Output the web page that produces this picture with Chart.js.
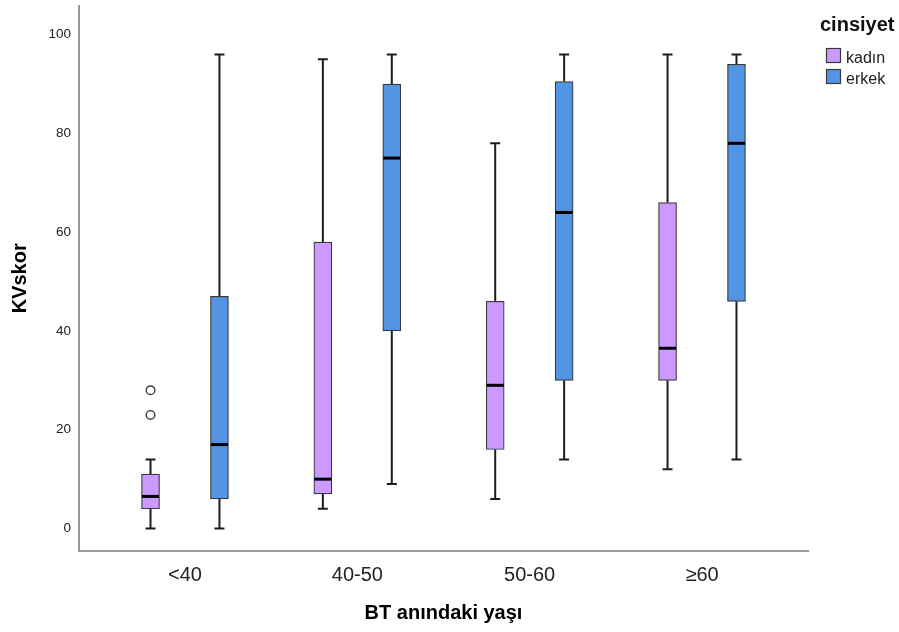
<!DOCTYPE html>
<html>
<head>
<meta charset="utf-8">
<script src="https://cdn.jsdelivr.net/npm/chart.js@4.4.1/dist/chart.umd.min.js"></script>
<style>
  html, body { margin: 0; padding: 0; background: #ffffff; }
  #wrap { width: 899px; height: 632px; }
</style>
</head>
<body>
<div id="wrap"><canvas id="c" width="899" height="632"></canvas></div>
<script>
// ---- data ----
const categories = ['<40', '40-50', '50-60', '≥60'];
const seriesNames = ['kadın', 'erkek'];
const yTicks = [0, 20, 40, 60, 80, 100];

const kadinMin     = [0, 4, 6, 12];
const kadinQ1      = [4, 7, 16, 30];
const kadinMedian  = [6.5, 10, 29, 36.5];
const kadinQ3      = [11, 58, 46, 66];
const kadinMax     = [14, 95, 78, 96];
const kadinOutliers = [[28, 23], [], [], []];

const erkekMin     = [0, 9, 14, 14];
const erkekQ1      = [6, 40, 30, 46];
const erkekMedian  = [17, 75, 64, 78];
const erkekQ3      = [47, 90, 90.5, 94];
const erkekMax     = [96, 96, 96, 96];
const erkekOutliers = [[], [], [], []];

const xTitle = 'BT anındaki yaşı';
const yTitle = 'KVskor';
const legendTitle = 'cinsiyet';

// ---- styling ----
const fills = ['#CC99FF', '#5394E3'];
const offsets = [-0.2, 0.2];
const FONT = "Arial, 'Liberation Sans', Helvetica, sans-serif";

const groups = [
  { min: kadinMin, q1: kadinQ1, med: kadinMedian, q3: kadinQ3, max: kadinMax, out: kadinOutliers },
  { min: erkekMin, q1: erkekQ1, med: erkekMedian, q3: erkekQ3, max: erkekMax, out: erkekOutliers }
];

const datasets = [];
groups.forEach((g, si) => {
  datasets.push({
    type: 'bar',
    label: seriesNames[si],
    data: categories.map((c, i) => ({ x: i + 1 + offsets[si], y: [g.q1[i], g.q3[i]] })),
    backgroundColor: fills[si],
    borderColor: '#3a3a3a',
    borderWidth: 1.2,
    borderSkipped: false,
    barThickness: 18,
    grouped: false,
    order: 2
  });
});
groups.forEach((g, si) => {
  const pts = [];
  categories.forEach((c, i) => g.out[i].forEach(v => pts.push({ x: i + 1 + offsets[si], y: v })));
  datasets.push({
    type: 'line',
    label: seriesNames[si] + ' outliers',
    data: pts,
    showLine: false,
    pointRadius: 4.3,
    pointBorderWidth: 1.4,
    pointBackgroundColor: '#ffffff',
    pointBorderColor: '#3a3a3a',
    order: 0
  });
});

const boxExtras = {
  id: 'boxExtras',
  beforeDatasetsDraw(chart) {
    const { ctx, scales: { x, y } } = chart;
    ctx.save();
    ctx.strokeStyle = '#1e1e1e';
    ctx.lineWidth = 2;
    groups.forEach((g, si) => {
      categories.forEach((c, i) => {
        const xc = x.getPixelForValue(i + 1 + offsets[si]);
        const yMin = y.getPixelForValue(g.min[i]);
        const yMax = y.getPixelForValue(g.max[i]);
        const yQ1 = y.getPixelForValue(g.q1[i]);
        const yQ3 = y.getPixelForValue(g.q3[i]);
        ctx.beginPath();
        ctx.moveTo(xc, yQ3); ctx.lineTo(xc, yMax);
        ctx.moveTo(xc, yQ1); ctx.lineTo(xc, yMin);
        ctx.moveTo(xc - 5, yMax); ctx.lineTo(xc + 5, yMax);
        ctx.moveTo(xc - 5, yMin); ctx.lineTo(xc + 5, yMin);
        ctx.stroke();
      });
    });
    ctx.restore();
  },
  afterDatasetsDraw(chart) {
    const { ctx, scales: { x, y } } = chart;
    ctx.save();
    ctx.strokeStyle = '#000000';
    ctx.lineWidth = 3;
    groups.forEach((g, si) => {
      categories.forEach((c, i) => {
        const xc = x.getPixelForValue(i + 1 + offsets[si]);
        const ym = y.getPixelForValue(g.med[i]);
        ctx.beginPath();
        ctx.moveTo(xc - 8.5, ym); ctx.lineTo(xc + 8.5, ym);
        ctx.stroke();
      });
    });
    ctx.restore();
  },
  afterDraw(chart) {
    const { ctx } = chart;
    ctx.save();
    ctx.fillStyle = '#111111';
    ctx.textAlign = 'left';
    ctx.textBaseline = 'alphabetic';
    ctx.font = 'bold 20px ' + FONT;
    ctx.fillText(legendTitle, 820, 31);
    ctx.font = '16px ' + FONT;
    seriesNames.forEach((name, si) => {
      const top = 48 + si * 21;
      ctx.fillStyle = fills[si];
      ctx.fillRect(826, top, 15, 15);
      ctx.strokeStyle = '#3a3a3a';
      ctx.lineWidth = 1.2;
      ctx.strokeRect(826.5, top + 0.5, 14, 14);
      ctx.fillStyle = '#222222';
      ctx.fillText(name, 846, top + 14.5);
    });
    ctx.restore();
  }
};

new Chart(document.getElementById('c'), {
  type: 'bar',
  data: { datasets },
  plugins: [boxExtras],
  options: {
    responsive: false,
    animation: false,
    devicePixelRatio: 1,
    layout: { padding: { top: 5, right: 91, left: 0, bottom: 0 } },
    plugins: {
      legend: { display: false },
      tooltip: { enabled: false }
    },
    scales: {
      x: {
        type: 'linear',
        offset: false,
        min: 0.385,
        max: 4.615,
        grid: { display: false, drawTicks: false },
        border: { display: true, color: '#999999', width: 2 },
        afterBuildTicks: (scale) => { scale.ticks = categories.map((c, i) => ({ value: i + 1 })); },
        afterFit: (scale) => { scale.height = 81; scale.paddingLeft = 0; scale.paddingRight = 0; },
        ticks: {
          autoSkip: false,
          maxRotation: 0,
          padding: 12,
          color: '#222222',
          font: { family: FONT, size: 20 },
          callback: (value) => categories[value - 1] ?? ''
        },
        title: {
          display: true,
          text: xTitle,
          color: '#000000',
          font: { family: FONT, size: 20, weight: 'bold' },
          padding: { top: 0, bottom: 7 }
        }
      },
      y: {
        type: 'linear',
        min: -4.55,
        max: 105.86,
        grid: { display: false, drawTicks: false },
        border: { display: true, color: '#999999', width: 2 },
        afterBuildTicks: (scale) => { scale.ticks = yTicks.map(v => ({ value: v })); },
        afterFit: (scale) => { scale.width = 79; scale.paddingTop = 0; scale.paddingBottom = 0; },
        ticks: {
          padding: 8,
          color: '#222222',
          font: { family: FONT, size: 13.5 },
          callback: (value) => String(value)
        },
        title: {
          display: true,
          text: yTitle,
          color: '#000000',
          font: { family: FONT, size: 20, weight: 'bold' },
          padding: { top: 8, bottom: 0 }
        }
      }
    }
  }
});
</script>
</body>
</html>
